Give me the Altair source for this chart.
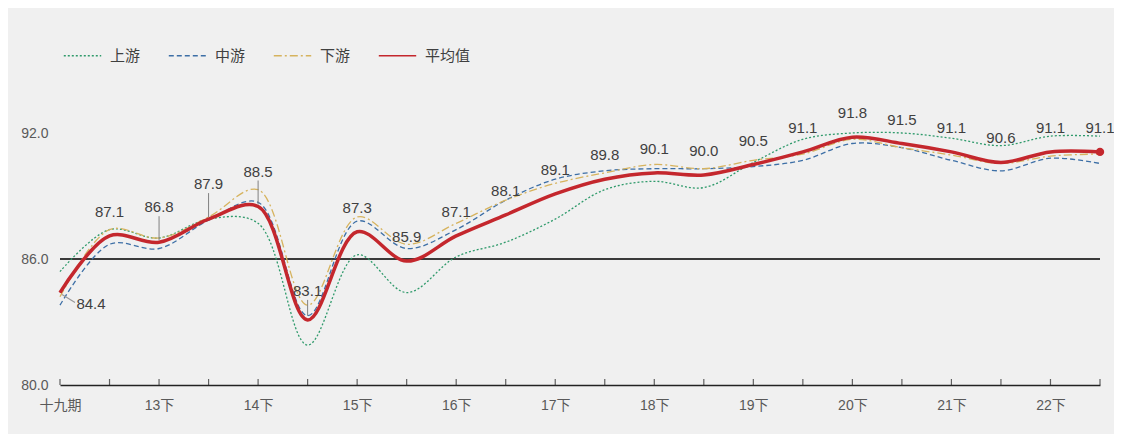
import altair as alt
import pandas as pd

# ---------------- data ----------------
periods = ["十九期", "13上", "13下", "14上", "14下", "15上", "15下", "16上", "16下",
           "17上", "17下", "18上", "18下", "19上", "19下", "20上", "20下", "21上",
           "21下", "22上", "22下", "23上"]
tick_labels = ["十九期", "13下", "14下", "15下", "16下", "17下", "18下", "19下",
               "20下", "21下", "22下"]
series_names = ["上游", "中游", "下游", "平均值"]

upstream = [85.4, 87.4, 87.0, 87.9, 87.7, 81.9, 86.2, 84.4, 86.1, 86.8, 87.9,
            89.3, 89.7, 89.4, 90.6, 91.7, 92.0, 92.0, 91.75, 91.4, 91.85, 91.85]
midstream = [83.8, 86.7, 86.5, 87.85, 88.7, 83.3, 87.8, 86.5, 87.4, 88.8, 89.8,
             90.2, 90.3, 90.3, 90.4, 90.7, 91.5, 91.3, 90.7, 90.2, 90.8, 90.55]
downstream = [84.2, 87.4, 87.0, 88.0, 89.3, 83.8, 88.0, 86.7, 87.7, 88.8, 89.6,
              90.1, 90.5, 90.3, 90.7, 91.0, 91.7, 91.3, 90.95, 90.55, 90.9, 91.0]
average = [84.4, 87.1, 86.8, 87.9, 88.5, 83.1, 87.3, 85.9, 87.1, 88.1, 89.1,
           89.8, 90.1, 90.0, 90.5, 91.1, 91.8, 91.5, 91.1, 90.6, 91.1, 91.1]
# label placement class for each average label
label_place = ["br", "up", "high", "high", "high", "mid", "up", "up", "up", "up", "up",
               "up", "up", "up", "up", "up", "up", "up", "up", "up", "up", "up"]

# ---------------- styles ----------------
colors = ["#2f9a6b", "#3d6fa6", "#d6b35e", "#c4272d"]
dashes = [[2, 2], [5, 3], [8, 3, 2, 3], [1, 0]]
widths = [1.3, 1.3, 1.3, 3.5]
FONT = "Liberation Sans, Noto Sans CJK SC"

rows = []
for name, vals in zip(series_names, [upstream, midstream, downstream, average]):
    for i, (p, v) in enumerate(zip(periods, vals)):
        rows.append({"period": p, "idx": i, "series": name, "value": v})
df = pd.DataFrame(rows)

lab_df = pd.DataFrame({
    "period": periods,
    "idx": list(range(len(periods))),
    "value": average,
    "text": [f"{v:.1f}" for v in average],
    "place": label_place,
})
last_df = lab_df.tail(1)
tick_df = pd.DataFrame({"period": periods})

x_enc = alt.X("period:N", sort=periods,
              scale=alt.Scale(type="point", padding=0),
              axis=alt.Axis(values=tick_labels, labelAngle=0, labelAlign="center",
                            labelFlush=False, labelBound=False,
                            title=None, ticks=False,
                            labelFontSize=14, labelColor="#595959", labelFont=FONT,
                            labelPadding=20, domainColor="#222222", domainWidth=1.5,
                            grid=False))
y_scale = alt.Scale(domain=[80, 92], nice=False, zero=False)
y_enc = alt.Y("value:Q", scale=y_scale,
              axis=alt.Axis(values=[80, 86, 92], format=".1f", title=None, domain=False,
                            ticks=False, grid=False, labelFontSize=14,
                            labelColor="#595959", labelFont=FONT, labelPadding=12))

lines = alt.Chart(df).mark_line(interpolate="catmull-rom").encode(
    x=x_enc,
    y=y_enc,
    color=alt.Color("series:N", sort=series_names,
                    scale=alt.Scale(domain=series_names, range=colors),
                    legend=alt.Legend(title=None)),
    strokeDash=alt.StrokeDash("series:N", sort=series_names,
                              scale=alt.Scale(domain=series_names, range=dashes),
                              legend=alt.Legend(title=None)),
    strokeWidth=alt.StrokeWidth("series:O", sort=series_names,
                                scale=alt.Scale(domain=series_names, range=widths),
                                legend=alt.Legend(title=None)),
    order=alt.Order("idx:Q"),
)

avg_line = alt.Chart(df).transform_filter(alt.datum.series == "平均值").mark_line(
    interpolate="catmull-rom", color="#c4272d", strokeWidth=3.5).encode(
    x=alt.X("period:N", sort=periods), y=alt.Y("value:Q"), order=alt.Order("idx:Q"))

ref = alt.Chart(pd.DataFrame({"v": [86]})).mark_rule(color="#3a3a3a", strokeWidth=2).encode(
    y=alt.Y("v:Q", scale=y_scale)
)

ticks = alt.Chart(tick_df).mark_tick(orient="vertical", size=6, thickness=1.2,
                                     yOffset=-3, color="#222222").encode(
    x=alt.X("period:N", sort=periods),
    y=alt.datum(80),
)

txt_kw = dict(fontSize=15, color="#404040", font=FONT, baseline="middle")
lab_up = alt.Chart(lab_df).transform_filter(alt.datum.place == "up").mark_text(dy=-24, **txt_kw).encode(
    x=alt.X("period:N", sort=periods), y=alt.Y("value:Q"), text="text:N")
lab_high = alt.Chart(lab_df).transform_filter(alt.datum.place == "high").mark_text(dy=-35, **txt_kw).encode(
    x=alt.X("period:N", sort=periods), y=alt.Y("value:Q"), text="text:N")
lab_mid = alt.Chart(lab_df).transform_filter(alt.datum.place == "mid").mark_text(dy=-29, **txt_kw).encode(
    x=alt.X("period:N", sort=periods), y=alt.Y("value:Q"), text="text:N")
lab_br = alt.Chart(lab_df).transform_filter(alt.datum.place == "br").mark_text(dx=31, dy=11, **txt_kw).encode(
    x=alt.X("period:N", sort=periods), y=alt.Y("value:Q"), text="text:N")

lead_high = alt.Chart(lab_df).transform_filter(alt.datum.place == "high").mark_rule(
    color="#808080", strokeWidth=1, yOffset=-2, y2Offset=-26).encode(
    x=alt.X("period:N", sort=periods), y=alt.Y("value:Q"), y2=alt.Y2("value"))
lead_mid = alt.Chart(lab_df).transform_filter(alt.datum.place == "mid").mark_rule(
    color="#808080", strokeWidth=1, yOffset=-4, y2Offset=-20).encode(
    x=alt.X("period:N", sort=periods), y=alt.Y("value:Q"), y2=alt.Y2("value"))
lead_br = alt.Chart(lab_df).transform_filter(alt.datum.place == "br").mark_rule(
    color="#9a9a9a", strokeWidth=1.2, xOffset=2, yOffset=2, x2Offset=15, y2Offset=10).encode(
    x=alt.X("period:N", sort=periods), x2=alt.X2("period"),
    y=alt.Y("value:Q"), y2=alt.Y2("value"))

dot = alt.Chart(last_df).mark_circle(size=70, color="#c4272d", opacity=1).encode(
    x=alt.X("period:N", sort=periods), y=alt.Y("value:Q"))

chart = alt.layer(
    ref, ticks, lines, avg_line, dot, lead_high, lead_mid, lead_br,
    lab_up, lab_high, lab_mid, lab_br
).properties(
    width=1040, height=252,
    background="#f0f0f0",
    autosize=alt.AutoSizeParams(type="none"),
    padding={"left": 52, "top": 125, "right": 14, "bottom": 49},
).configure_view(
    stroke=None
).configure_legend(
    orient="none", legendX=3, legendY=-97, direction="horizontal",
    symbolType="stroke", symbolSize=1400, labelFontSize=15, labelColor="#404040",
    labelFont=FONT, labelOffset=8, columnPadding=25,
)

chart.save("out.html", embed_options={"renderer": "svg", "actions": False})
